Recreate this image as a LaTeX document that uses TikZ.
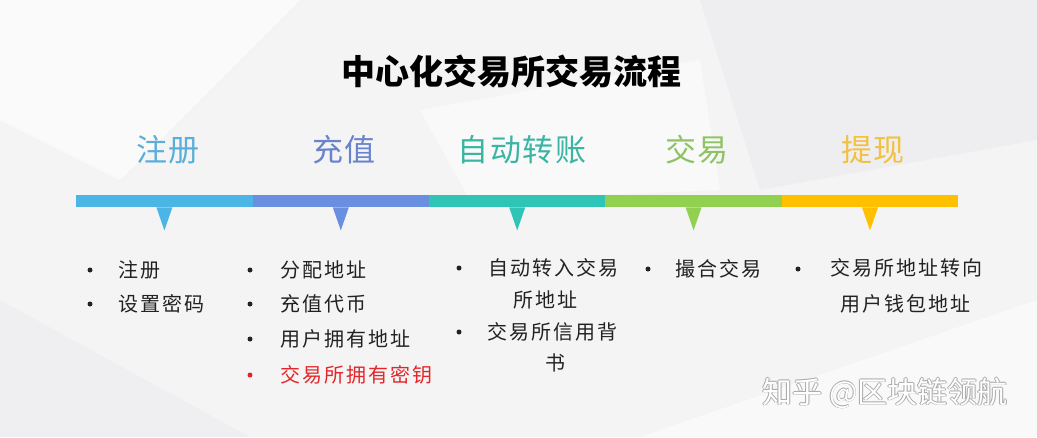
\documentclass[tikz,border=0pt]{standalone}
\usepackage{fontspec}
\newfontfamily\cjk{Noto Sans CJK SC}
\newfontfamily\cjkbody{Noto Sans CJK SC}[LetterSpace=10]
\newfontfamily\cjkstage{Noto Sans CJK SC}[LetterSpace=5]
\definecolor{cA}{HTML}{4BB5E6}
\definecolor{cB}{HTML}{6A8EE0}
\definecolor{cC}{HTML}{2EC4B6}
\definecolor{cD}{HTML}{92D050}
\definecolor{cE}{HTML}{FFC000}
\definecolor{tA}{HTML}{5AAED8}
\definecolor{tB}{HTML}{6A84CC}
\definecolor{tC}{HTML}{3AB5A2}
\definecolor{tD}{HTML}{8EC262}
\definecolor{tE}{HTML}{F2C141}
\definecolor{body}{HTML}{222222}
\definecolor{redt}{HTML}{E3262A}
\definecolor{bg}{HTML}{F4F4F5}
\definecolor{bg2}{HTML}{ECECEE}
\definecolor{wmg}{HTML}{A8A8A8}
\begin{document}
\begin{tikzpicture}[x=1pt,y=-1pt,
  stage/.style={font=\cjkstage\fontsize{31}{34}\selectfont, anchor=center, inner sep=0pt},
  item/.style={font=\cjkbody\fontsize{20}{22}\selectfont, text=body, anchor=west, inner sep=0pt},
  citem/.style={font=\cjkbody\fontsize{20}{22}\selectfont, text=body, anchor=center, inner sep=0pt},
  dot/.style={circle, fill=body, inner sep=0pt, minimum size=5pt},
  wm/.style={font=\cjk\fontsize{30}{34}\selectfont, inner sep=0pt},
  seg/.style={inner sep=0pt, minimum width=176.4pt, minimum height=12pt, anchor=north west}]
% background
\fill[bg] (0,0) rectangle (1037,437);
\useasboundingbox (0,0) rectangle (1037,437);
\fill[white, opacity=0.6] (0,0) -- (300,0) -- (120,180) -- (0,120) -- cycle;
\fill[bg2, opacity=0.7] (700,0) -- (1037,0) -- (1037,140) -- (760,190) -- cycle;
\fill[white, opacity=0.5] (420,110) -- (700,60) -- (720,190) -- (470,200) -- cycle;
\fill[bg2, opacity=0.5] (0,300) -- (250,437) -- (0,437) -- cycle;
\fill[white, opacity=0.5] (640,437) -- (1037,300) -- (1037,437) -- cycle;
% title
\node[font=\cjk\bfseries\fontsize{34}{38}\selectfont, text=black, inner sep=0pt] (title) at (511,71) {中心化交易所交易流程};
% stage labels
\node[stage, text=tA] (l1) at (168,150) {注册};
\node[stage, text=tB] (l2) at (344,150) {充值};
\node[stage, text=tC] (l3) at (522,150) {自动转账};
\node[stage, text=tD] (l4) at (697,150) {交易};
\node[stage, text=tE] (l5) at (873,150) {提现};
% bar segments
\node[seg, fill=cA] (s1) at (76,195) {};
\node[seg, fill=cB] (s2) at (252.4,195) {};
\node[seg, fill=cC] (s3) at (428.8,195) {};
\node[seg, fill=cD] (s4) at (605.2,195) {};
\node[seg, fill=cE] (s5) at (781.6,195) {};
\foreach \s/\c in {s1/cA,s2/cB,s3/cC,s4/cD,s5/cE}{
  \fill[\c] ([xshift=-8pt]\s.south) -- ([xshift=8pt]\s.south) -- ([yshift=-23pt]\s.south) -- cycle;
}
% column 1
\node[dot] (d11) at (90,270) {};
\node[item] (t11) at (118,270) {注册};
\node[dot] (d12) at (90,304) {};
\node[item] (t12) at (118,304) {设置密码};
% column 2
\node[dot] (d21) at (250,270) {};
\node[item] (t21) at (280,270) {分配地址};
\node[dot] (d22) at (250,304) {};
\node[item] (t22) at (280,304) {充值代币};
\node[dot] (d23) at (250,339) {};
\node[item] (t23) at (280,339) {用户拥有地址};
\node[dot, fill=redt] (d24) at (250,375) {};
\node[item, text=redt] (t24) at (280,375) {交易所拥有密钥};
% column 3
\node[dot] (d31) at (459,268) {};
\node[citem] (t31) at (553,268) {自动转入交易};
\node[citem] (t31b) at (545,300) {所地址};
\node[dot] (d32) at (459,332) {};
\node[citem] (t32) at (552,332) {交易所信用背};
\node[citem] (t32b) at (555,363) {书};
% column 4
\node[dot] (d41) at (648,269) {};
\node[item] (t41) at (675,269) {撮合交易};
% column 5
\node[dot] (d51) at (798,269) {};
\node[citem] (t51) at (906,268) {交易所地址转向};
\node[citem] (t51b) at (905,304) {用户钱包地址};
% watermark (outlined look)
\node[wm, text=wmg] (wm1) at (884.2,393) {知乎 @区块链领航};
\node[wm, text=wmg] (wm2) at (885.8,393) {知乎 @区块链领航};
\node[wm, text=wmg] (wm3) at (885,392.2) {知乎 @区块链领航};
\node[wm, text=wmg] (wm4) at (885,393.8) {知乎 @区块链领航};
\node[wm, text=white] (wm) at (885,393) {知乎 @区块链领航};
\end{tikzpicture}
\end{document}
